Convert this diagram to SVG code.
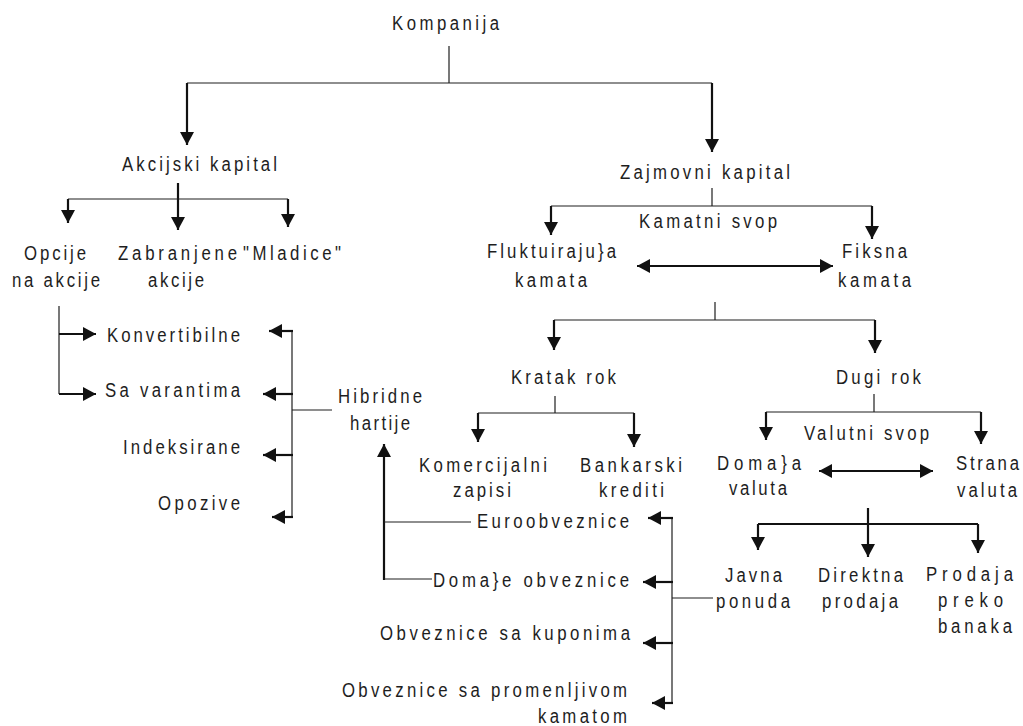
<svg xmlns="http://www.w3.org/2000/svg" width="1023" height="726" viewBox="0 0 1023 726">
<style>
.t{font-family:"Liberation Sans",Arial,sans-serif;font-size:21px;fill:#1e1e1e;}
.thin{stroke:#1e1e1e;stroke-width:1.2;fill:none;}
.thick{stroke:#111;stroke-width:2.2;fill:none;}
.ar{stroke:#111;stroke-width:2.2;fill:none;marker-end:url(#ah);}
.dar{stroke:#111;stroke-width:2.2;fill:none;marker-end:url(#ah);marker-start:url(#ahs);}
</style>
<defs>
<marker id="ah" markerUnits="userSpaceOnUse" markerWidth="14" markerHeight="14" refX="13" refY="7" orient="auto">
<path d="M0,0 L13,7 L0,14 z" fill="#111"/>
</marker>
<marker id="ahs" markerUnits="userSpaceOnUse" markerWidth="14" markerHeight="14" refX="0" refY="7" orient="auto">
<path d="M13,0 L0,7 L13,14 z" fill="#111"/>
</marker>
</defs>
<rect width="1023" height="726" fill="#fff"/>

<g id="connectors">
<line class="thin" x1="449" y1="46" x2="449" y2="83"/>
<line class="thin" x1="187" y1="83" x2="712" y2="83"/>
<line class="ar" x1="187" y1="83" x2="187" y2="145"/>
<line class="ar" x1="712" y1="83" x2="712" y2="152"/>
<line class="ar" x1="178" y1="183" x2="178" y2="230"/>
<line class="thin" x1="68" y1="199" x2="288" y2="199"/>
<line class="ar" x1="68" y1="199" x2="68" y2="223"/>
<line class="ar" x1="288" y1="199" x2="288" y2="227"/>
<line class="thin" x1="712" y1="188" x2="712" y2="206"/>
<line class="thin" x1="551" y1="206" x2="872" y2="206"/>
<line class="ar" x1="551" y1="206" x2="551" y2="235"/>
<line class="ar" x1="872" y1="206" x2="872" y2="239"/>
<line class="dar" x1="637" y1="266" x2="833" y2="266"/>
<line class="thin" x1="715" y1="302" x2="715" y2="320"/>
<line class="thin" x1="554" y1="320" x2="875" y2="320"/>
<line class="ar" x1="554" y1="320" x2="554" y2="350"/>
<line class="ar" x1="875" y1="320" x2="875" y2="353"/>
<line class="thin" x1="555" y1="396" x2="555" y2="413"/>
<line class="thin" x1="478" y1="413" x2="634" y2="413"/>
<line class="ar" x1="478" y1="413" x2="478" y2="442"/>
<line class="ar" x1="634" y1="413" x2="634" y2="447"/>
<line class="thin" x1="874" y1="394" x2="874" y2="412"/>
<line class="thin" x1="766" y1="412" x2="981" y2="412"/>
<line class="ar" x1="766" y1="412" x2="766" y2="440"/>
<line class="ar" x1="981" y1="412" x2="981" y2="444"/>
<line class="dar" x1="819" y1="471" x2="933" y2="471"/>
<line class="ar" x1="868" y1="508" x2="868" y2="557"/>
<line class="thick" x1="758" y1="524" x2="978" y2="524"/>
<line class="ar" x1="758" y1="524" x2="758" y2="550"/>
<line class="ar" x1="978" y1="524" x2="978" y2="553"/>
<line class="thin" x1="59" y1="306" x2="59" y2="394"/>
<line class="ar" x1="59" y1="334" x2="96" y2="334"/>
<line class="ar" x1="59" y1="394" x2="96" y2="394"/>
<line class="thin" x1="292" y1="330" x2="292" y2="517"/>
<line class="thin" x1="292" y1="410" x2="332" y2="410"/>
<line class="ar" x1="293" y1="331" x2="269" y2="331"/>
<line class="ar" x1="293" y1="394" x2="263" y2="394"/>
<line class="ar" x1="293" y1="455" x2="263" y2="455"/>
<line class="ar" x1="293" y1="517" x2="272" y2="517"/>
<line class="ar" x1="384" y1="580" x2="384" y2="444"/>
<line class="thin" x1="384" y1="522" x2="471" y2="522"/>
<line class="thin" x1="384" y1="579" x2="432" y2="579"/>
<line class="thin" x1="672" y1="518" x2="672" y2="703"/>
<line class="thin" x1="672" y1="598" x2="713" y2="598"/>
<line class="ar" x1="673" y1="518" x2="648" y2="518"/>
<line class="ar" x1="673" y1="582" x2="643" y2="582"/>
<line class="ar" x1="673" y1="643" x2="643" y2="643"/>
<line class="ar" x1="673" y1="703" x2="652" y2="703"/>
</g>

<g id="kompanija" transform="scale(0.8 1)"><text class="t" x="490" y="30" textLength="133.75" lengthAdjust="spacing">Kompanija</text></g>
<g id="akcijski" transform="scale(0.8 1)"><text class="t" x="152.5" y="171" textLength="193.75" lengthAdjust="spacing">Akcijski kapital</text></g>
<g id="zajmovni" transform="scale(0.8 1)"><text class="t" x="775" y="179" textLength="212.5" lengthAdjust="spacing">Zajmovni kapital</text></g>
<g id="opcije" transform="scale(0.8 1)"><text class="t" x="30" y="260" textLength="77.5" lengthAdjust="spacing">Opcije</text><text class="t" x="15" y="287" textLength="110" lengthAdjust="spacing">na akcije</text></g>
<g id="zabranjene" transform="scale(0.8 1)"><text class="t" x="147.5" y="260" textLength="148.75" lengthAdjust="spacing">Zabranjene</text><text class="t" x="185" y="287" textLength="70" lengthAdjust="spacing">akcije</text></g>
<g id="mladice" transform="scale(0.8 1)"><text class="t" x="303.75" y="260" textLength="122.5" lengthAdjust="spacing">"Mladice"</text></g>
<g id="kamatni-svop" transform="scale(0.8 1)"><text class="t" x="798.75" y="228" textLength="172.5" lengthAdjust="spacing">Kamatni svop</text></g>
<g id="fluktuirajuca" transform="scale(0.8 1)"><text class="t" x="608.75" y="258" textLength="161.25" lengthAdjust="spacing">Fluktuiraju}a</text><text class="t" x="643.75" y="287" textLength="90" lengthAdjust="spacing">kamata</text></g>
<g id="fiksna" transform="scale(0.8 1)"><text class="t" x="1052.5" y="258" textLength="81.25" lengthAdjust="spacing">Fiksna</text><text class="t" x="1047.5" y="287" textLength="91.25" lengthAdjust="spacing">kamata</text></g>
<g id="konvertibilne" transform="scale(0.8 1)"><text class="t" x="133.75" y="342" textLength="166.25" lengthAdjust="spacing">Konvertibilne</text></g>
<g id="varanti" transform="scale(0.8 1)"><text class="t" x="131.25" y="397" textLength="168.75" lengthAdjust="spacing">Sa varantima</text></g>
<g id="indeksirane" transform="scale(0.8 1)"><text class="t" x="153.75" y="454" textLength="146.25" lengthAdjust="spacing">Indeksirane</text></g>
<g id="opozive" transform="scale(0.8 1)"><text class="t" x="197.5" y="510" textLength="102.5" lengthAdjust="spacing">Opozive</text></g>
<g id="hibridne" transform="scale(0.8 1)"><text class="t" x="422.5" y="403" textLength="105" lengthAdjust="spacing">Hibridne</text><text class="t" x="437.5" y="430" textLength="75" lengthAdjust="spacing">hartije</text></g>
<g id="kratak-rok" transform="scale(0.8 1)"><text class="t" x="638.75" y="384" textLength="131.25" lengthAdjust="spacing">Kratak rok</text></g>
<g id="dugi-rok" transform="scale(0.8 1)"><text class="t" x="1045" y="384" textLength="106.25" lengthAdjust="spacing">Dugi rok</text></g>
<g id="komercijalni" transform="scale(0.8 1)"><text class="t" x="523.75" y="472" textLength="160" lengthAdjust="spacing">Komercijalni</text><text class="t" x="566.25" y="497" textLength="72.5" lengthAdjust="spacing">zapisi</text></g>
<g id="bankarski" transform="scale(0.8 1)"><text class="t" x="725" y="472" textLength="127.5" lengthAdjust="spacing">Bankarski</text><text class="t" x="748.75" y="497" textLength="81.25" lengthAdjust="spacing">krediti</text></g>
<g id="valutni-svop" transform="scale(0.8 1)"><text class="t" x="1005" y="440" textLength="156.25" lengthAdjust="spacing">Valutni svop</text></g>
<g id="domaca-valuta" transform="scale(0.8 1)"><text class="t" x="896.25" y="470" textLength="105" lengthAdjust="spacing">Doma}a</text><text class="t" x="911.25" y="495" textLength="72.5" lengthAdjust="spacing">valuta</text></g>
<g id="strana-valuta" transform="scale(0.8 1)"><text class="t" x="1195" y="470" textLength="78.75" lengthAdjust="spacing">Strana</text><text class="t" x="1196.25" y="497" textLength="75" lengthAdjust="spacing">valuta</text></g>
<g id="euroobveznice" transform="scale(0.8 1)"><text class="t" x="596.25" y="528" textLength="190" lengthAdjust="spacing">Euroobveznice</text></g>
<g id="domace-obveznice" transform="scale(0.8 1)"><text class="t" x="541.25" y="587" textLength="245" lengthAdjust="spacing">Doma}e obveznice</text></g>
<g id="kuponi" transform="scale(0.8 1)"><text class="t" x="475" y="640" textLength="312.5" lengthAdjust="spacing">Obveznice sa kuponima</text></g>
<g id="promenljiva" transform="scale(0.8 1)"><text class="t" x="427.5" y="697" textLength="356.25" lengthAdjust="spacing">Obveznice sa promenljivom</text><text class="t" x="672.5" y="723" textLength="111.25" lengthAdjust="spacing">kamatom</text></g>
<g id="javna-ponuda" transform="scale(0.8 1)"><text class="t" x="906.25" y="582" textLength="71.25" lengthAdjust="spacing">Javna</text><text class="t" x="895" y="608" textLength="92.5" lengthAdjust="spacing">ponuda</text></g>
<g id="direktna-prodaja" transform="scale(0.8 1)"><text class="t" x="1022.5" y="582" textLength="106.25" lengthAdjust="spacing">Direktna</text><text class="t" x="1027.5" y="608" textLength="95" lengthAdjust="spacing">prodaja</text></g>
<g id="prodaja-banaka" transform="scale(0.8 1)"><text class="t" x="1157.5" y="581" textLength="108.75" lengthAdjust="spacing">Prodaja</text><text class="t" x="1172.5" y="607" textLength="81.25" lengthAdjust="spacing">preko</text><text class="t" x="1172.5" y="633" textLength="92.5" lengthAdjust="spacing">banaka</text></g>
</svg>
